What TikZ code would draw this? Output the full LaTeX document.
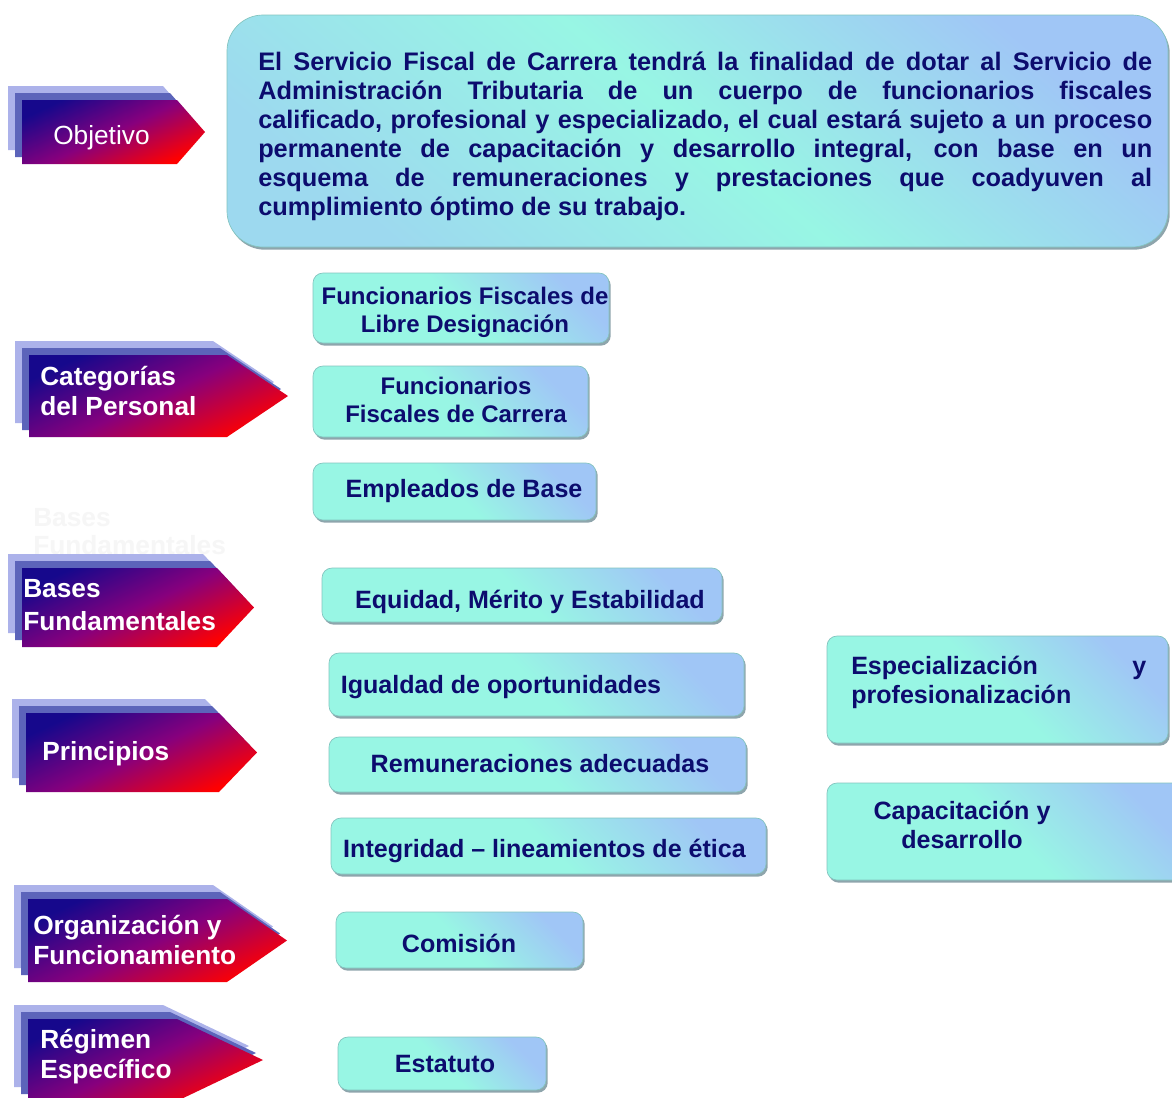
\documentclass[tikz,border=0pt]{standalone}
\usepackage{fontspec}
\setmainfont{Liberation Sans}
\usetikzlibrary{shadows}
\definecolor{aq}{RGB}{152,246,228}
\definecolor{bl}{RGB}{160,198,246}
\definecolor{navy}{RGB}{12,12,110}
\definecolor{tagA}{RGB}{172,178,234}
\definecolor{tagB}{RGB}{92,100,186}
\definecolor{tagN}{RGB}{22,8,140}
\definecolor{tagP}{RGB}{135,0,125}
\definecolor{tagR}{RGB}{255,0,0}
\definecolor{ghost}{RGB}{246,246,246}
\definecolor{shd}{RGB}{105,135,145}
\tikzset{
  boxst/.style={draw=aq!55!shd, line width=0.5pt, rounded corners=7.5pt,
    top color=bl, bottom color=aq, middle color=aq, shading angle=-45,
    drop shadow={shadow xshift=1.3pt, shadow yshift=-2pt, fill=shd, opacity=0.75},
    inner sep=0pt},
  mainst/.style={boxst, rounded corners=27pt, top color=bl, bottom color=bl!60!aq, middle color=aq, shading angle=-40},
  tagfront/.style={top color=tagN, bottom color=tagR, middle color=tagP, shading angle=25},
  tagtxt/.style={text=white, font=\bfseries\fontsize{19.7pt}{22.5pt}\selectfont, align=left, anchor=west, inner sep=0pt, yshift=-2.2pt},
  boxtxt/.style={text=navy, font=\bfseries\fontsize{18.8pt}{21.6pt}\selectfont, align=center, inner sep=0pt, yshift=-1.6pt},
}
\newcommand\tagarrow[5]{% L, T, B, C, tip
  \foreach \s/\c in {14/tagA,7/tagB}{
    \fill[\c, shift={(-\s,-\s)}] (#1,#2) -- (#4,#2) -- (#5,{(#2+#3)/2}) -- (#4,#3) -- (#1,#3) -- cycle;}
  \shade[tagfront] (#1,#2) -- (#4,#2) -- (#5,{(#2+#3)/2}) -- (#4,#3) -- (#1,#3) -- cycle;
}
\begin{document}
\begin{tikzpicture}[x=0.75pt,y=-0.75pt]
\useasboundingbox[fill=white] (0,0) rectangle (1172,1097);

% ghost text
\node[tagtxt, text=ghost, align=left, font=\bfseries\fontsize{19.7pt}{21pt}\selectfont] (ghost) at (33,529) {Bases\\Fundamentales};

% tags
\tagarrow{22}{100}{164}{177}{205}
\node[tagtxt, font=\fontsize{19.7pt}{22.5pt}\selectfont] (tObj) at (53,135) {Objetivo};
\tagarrow{29}{355}{437}{227}{288}
\node[tagtxt] (tCat) at (40,388) {Categorías\\del Personal};
\tagarrow{22}{568}{647}{217}{254}
\node[tagtxt, font=\bfseries\fontsize{19.7pt}{24.75pt}\selectfont] (tBas) at (23,602) {Bases\\Fundamentales};
\tagarrow{26}{713}{792}{219}{257}
\node[tagtxt] (tPri) at (42,751) {Principios};
\tagarrow{28}{899}{982}{227}{287}
\node[tagtxt] (tOrg) at (33,937) {Organización y\\Funcionamiento};
\tagarrow{28}{1019}{1101}{177}{263}
\node[tagtxt] (tReg) at (40,1054) {Régimen\\Específico};

% main box
\node[mainst, minimum width=705.75pt, minimum height=174pt] (main) at (697.5,131) {};
\node[boxtxt, font=\bfseries\fontsize{19pt}{21.75pt}\selectfont, text width=670.5pt, align=justify, anchor=west] (mainT) at (258,134)
{El Servicio Fiscal de Carrera tendrá la finalidad de dotar al Servicio de\linebreak
Administración Tributaria de un cuerpo de funcionarios fiscales\linebreak
calificado, profesional y especializado, el cual estará sujeto a un proceso\linebreak
permanente de capacitación y desarrollo integral, con base en un\linebreak
esquema de remuneraciones y prestaciones que coadyuven al\linebreak
cumplimiento óptimo de su trabajo.};

% boxes
\node[boxst, minimum width=222pt, minimum height=52.5pt] (b1) at (461,308) {};
\node[boxtxt, font=\bfseries\fontsize{18pt}{21pt}\selectfont] (b1t) at (465,310) {Funcionarios Fiscales de\\Libre Designación};
\node[boxst, minimum width=206.25pt, minimum height=53.25pt] (b2) at (450.5,401.5) {};
\node[boxtxt, font=\bfseries\fontsize{18pt}{21pt}\selectfont] (b2t) at (456,398) {Funcionarios\\Fiscales de Carrera};
\node[boxst, minimum width=212.25pt, minimum height=42.75pt] (b3) at (454.5,491.5) {};
\node[boxtxt] (b3t) at (464,489) {Empleados de Base};
\node[boxst, minimum width=300pt, minimum height=40.5pt] (b4) at (522,595) {};
\node[boxtxt] (b4t) at (530,600) {Equidad, Mérito y Estabilidad};
\node[boxst, minimum width=311.25pt, minimum height=47.25pt] (b5) at (536.5,684.5) {};
\node[boxtxt] (b5t) at (501,685) {Igualdad de oportunidades};
\node[boxst, minimum width=312.75pt, minimum height=41.25pt] (b6) at (537.5,764.5) {};
\node[boxtxt] (b6t) at (540,761.5) {Remuneraciones adecuadas};
\node[boxst, minimum width=326.25pt, minimum height=42pt] (b7) at (548.5,846) {};
\node[boxtxt] (b7t) at (544.5,849) {Integridad – lineamientos de ética};
\node[boxst, minimum width=255.75pt, minimum height=80.25pt] (b8) at (997.5,689.5) {};
\node[boxtxt, text width=221.25pt, align=justify, anchor=west] (b8t) at (851,680) {Especialización y\linebreak profesionalización};
\node[boxst, minimum width=272.25pt, minimum height=72.75pt] (b9) at (1008.5,831.5) {};
\node[boxtxt] (b9t) at (962,823) {Capacitación y\\desarrollo};
\node[boxst, minimum width=185.25pt, minimum height=42pt] (b10) at (459.5,940) {};
\node[boxtxt] (b10t) at (459,941) {Comisión};
\node[boxst, minimum width=156pt, minimum height=39.75pt] (b11) at (442,1063.5) {};
\node[boxtxt] (b11t) at (445,1062) {Estatuto};
\end{tikzpicture}
\end{document}
